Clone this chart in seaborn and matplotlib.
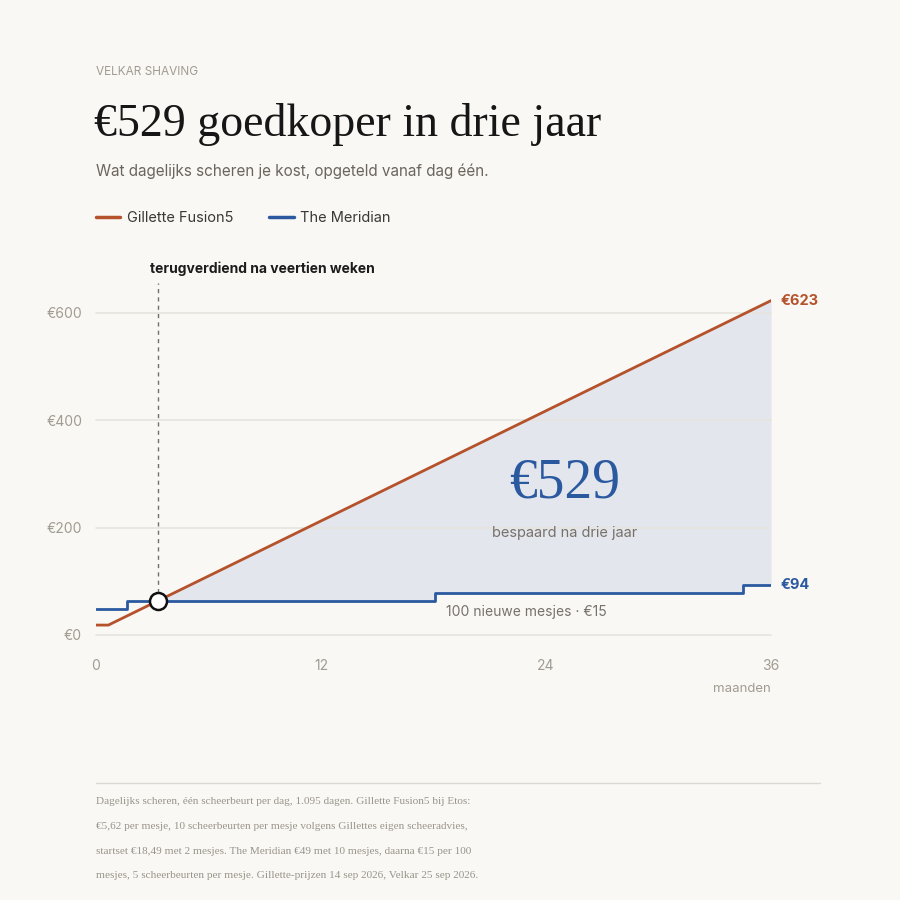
import numpy as np
import pandas as pd
import matplotlib
matplotlib.use("Agg")
import matplotlib.pyplot as plt
import seaborn as sns

# cumulative cost per month (months since day one)
gillette_months = [0, 0.66, 36]
gillette_cost = [18.49, 18.49, 623]
meridian_months = [0, 1.64, 18.07, 34.5, 36]
meridian_cost = [49, 64, 79, 94, 94]

y_ticks = [0, 200, 400, 600]
x_ticks = [0, 12, 24, 36]

footer_lines = [
    "Dagelijks scheren, één scheerbeurt per dag, 1.095 dagen. Gillette Fusion5 bij Etos:",
    "€5,62 per mesje, 10 scheerbeurten per mesje volgens Gillettes eigen scheeradvies,",
    "startset €18,49 met 2 mesjes. The Meridian €49 met 10 mesjes, daarna €15 per 100",
    "mesjes, 5 scheerbeurten per mesje. Gillette-prijzen 14 sep 2026, Velkar 25 sep 2026.",
]

BG = "#f9f8f4"
ORANGE = "#b5522b"
BLUE = "#2b59a0"
FILL = "#e3e6ec"
GRID = "#e6e4de"
MUTED = "#a19b91"
SANS = ["Inter", "DejaVu Sans"]
SERIF = ["Liberation Serif", "DejaVu Serif"]

sns.set_style("white")
plt.rcParams["font.family"] = SANS

g_df = pd.DataFrame({"month": gillette_months, "cost": gillette_cost})
m_df = pd.DataFrame({"month": meridian_months, "cost": meridian_cost})

fig = plt.figure(figsize=(9, 9), dpi=100, facecolor=BG)
ax = fig.add_axes([96 / 900, 265 / 900, 675 / 900, 343.5 / 900])
ax.set_facecolor(BG)

# break-even point: where the gillette line reaches the meridian's second level
slope = (gillette_cost[2] - gillette_cost[1]) / (gillette_months[2] - gillette_months[1])
cross_y = meridian_cost[1]
cross_x = gillette_months[1] + (cross_y - gillette_cost[1]) / slope

# savings area
xs = np.linspace(cross_x, 36, 500)
upper = np.interp(xs, gillette_months, gillette_cost)
lower = np.array(meridian_cost)[np.searchsorted(meridian_months, xs, side="right") - 1]
ax.fill_between(xs, lower, upper, color=FILL, lw=0, zorder=1)

for t in y_ticks:
    ax.axhline(t, color=GRID, lw=1.2, zorder=2, clip_on=False)

sns.lineplot(data=g_df, x="month", y="cost", ax=ax, color=ORANGE, lw=2,
             label="Gillette Fusion5", zorder=4)
sns.lineplot(data=m_df, x="month", y="cost", ax=ax, color=BLUE, lw=2,
             drawstyle="steps-post", label="The Meridian", zorder=4)

ax.plot([cross_x, cross_x], [cross_y, 656], ls=(0, (3, 3)), color="#6f6f6f", lw=1,
        zorder=3, clip_on=False)
ax.scatter([cross_x], [cross_y], s=150, facecolor="white", edgecolor="#111111",
           lw=1.8, zorder=6, clip_on=False)

ax.text(2.88, 682, "terugverdiend na veertien weken", fontsize=10, fontweight="bold",
        color="#1c1c1c", ha="left", va="center")

ax.text(25.0, 283, "€529", family=SERIF, fontsize=40, color=BLUE,
        ha="center", va="center")
ax.text(25.0, 190, "bespaard na drie jaar", fontsize=10.5, color="#77716a",
        ha="center", va="center")
ax.text(18.67, 43, "100 nieuwe mesjes · €15", fontsize=10, color="#77716a",
        ha="left", va="center")

ax.text(36.5, gillette_cost[-1], f"€{gillette_cost[-1]}", fontsize=10.5,
        fontweight="bold", color=ORANGE, ha="left", va="center")
ax.text(36.5, meridian_cost[-1] - 1, f"€{meridian_cost[-1]}", fontsize=10.5,
        fontweight="bold", color=BLUE, ha="left", va="center")

ax.set_xlim(0, 36)
ax.set_ylim(0, 640)
ax.set_xticks(x_ticks)
ax.set_xticklabels([str(t) for t in x_ticks])
ax.set_yticks(y_ticks)
ax.set_yticklabels([f"€{t}" for t in y_ticks])
ax.tick_params(axis="both", length=0, labelsize=10, labelcolor=MUTED)
ax.tick_params(axis="x", pad=17)
ax.tick_params(axis="y", pad=10)
ax.set_xlabel("")
ax.set_ylabel("")
sns.despine(ax=ax, left=True, bottom=True)

leg = ax.legend(loc="center left", bbox_to_anchor=(0, 1.214), ncol=2, frameon=False,
                fontsize=10.5, handlelength=1.65, handletextpad=0.45, columnspacing=2.5,
                borderpad=0, borderaxespad=0, labelcolor="#3b3835")
for h in leg.get_lines():
    h.set_linewidth(2.5)

fig.text(771 / 900, 1 - 689 / 900, "maanden", fontsize=9.5, color=MUTED,
         ha="right", va="center")

fig.text(96 / 900, 1 - 72 / 900, "VELKAR SHAVING", fontsize=8.5, color=MUTED,
         ha="left", va="center")
fig.text(94 / 900, 1 - 124 / 900, "€529 goedkoper in drie jaar", family=SERIF,
         fontsize=33, color="#161616", ha="left", va="center")
fig.text(96 / 900, 1 - 171 / 900, "Wat dagelijks scheren je kost, opgeteld vanaf dag één.",
         fontsize=11, color="#6b655e", ha="left", va="center")

fig.add_artist(plt.Line2D([96 / 900, 820 / 900], [1 - 783 / 900, 1 - 783 / 900],
                          color="#dcd9d2", lw=1))
for i, line in enumerate(footer_lines):
    fig.text(96 / 900, 1 - (802 + i * 24.5) / 900, line, family=SERIF, fontsize=8.1,
             color="#9a948a", ha="left", va="center")

fig.savefig("out.png", dpi=100, facecolor=BG)
